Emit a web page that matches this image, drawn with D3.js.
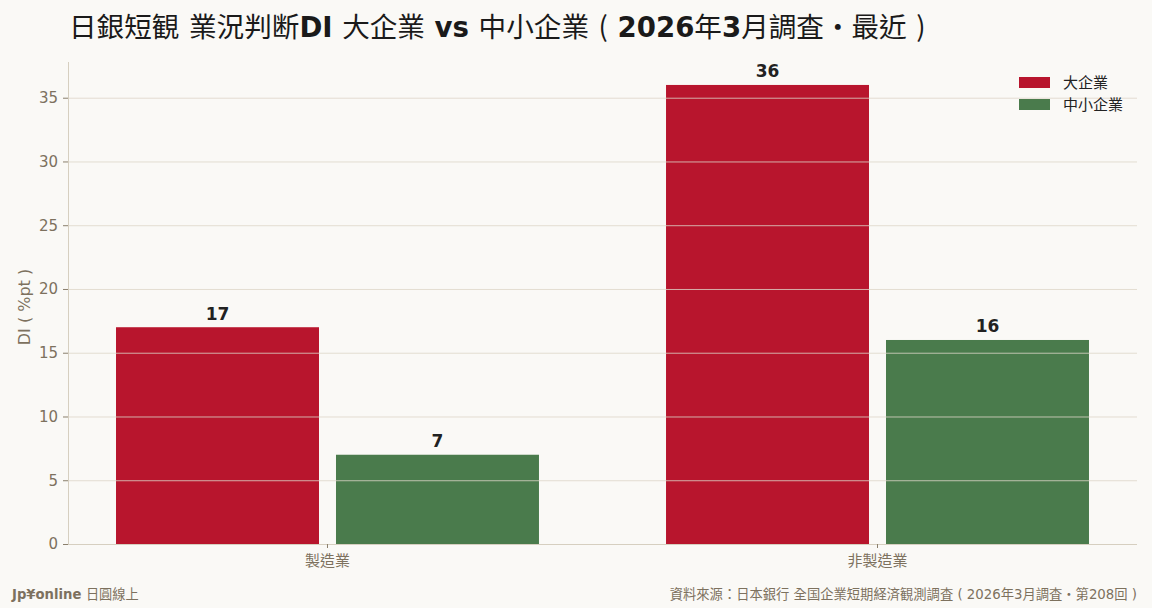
<!DOCTYPE html>
<html><head><meta charset="utf-8">
<script src="https://cdn.jsdelivr.net/npm/d3@7"></script>
<style>
html,body{margin:0;padding:0;background:#faf9f6;}
svg{display:block;}
text{font-family:"DejaVu Sans","Noto Sans CJK TC",sans-serif;}
</style></head>
<body>
<svg id="chart" width="1152" height="608"></svg>
<script>
const categories = ["製造業", "非製造業"];
const seriesNames = ["大企業", "中小企業"];
const largeValues = [17, 36];
const smallValues = [7, 16];
const yTicks = [0, 5, 10, 15, 20, 25, 30, 35];
const colors = ["#b8152d", "#4a7b4c"];

const W = 1152, H = 608;
const m = {left: 68, right: 1137, top: 62, bottom: 544};
const CJK = "Noto Sans CJK TC, sans-serif";
const MIX = "DejaVu Sans, Noto Sans CJK TC, sans-serif";
const svg = d3.select("#chart");
svg.append("rect").attr("width", W).attr("height", H).attr("fill", "#faf9f6");

const x = d3.scaleBand().domain(categories).range([m.left, m.right]).paddingInner(0.231).paddingOuter(0.0873);
const xs = d3.scaleBand().domain(seriesNames).range([0, x.bandwidth()]).paddingInner(0.0773).paddingOuter(0);
const y = d3.scaleLinear().domain([0, 37.8]).range([m.bottom, m.top]);

const data = categories.map((c, i) => ({cat: c, vals: [largeValues[i], smallValues[i]]}));

// bars
const g = svg.append("g");
data.forEach(d => {
  d.vals.forEach((v, j) => {
    g.append("rect")
      .attr("x", x(d.cat) + xs(seriesNames[j]))
      .attr("y", y(v))
      .attr("width", xs.bandwidth())
      .attr("height", y(0) - y(v))
      .attr("fill", colors[j]);
    g.append("text")
      .attr("x", x(d.cat) + xs(seriesNames[j]) + xs.bandwidth() / 2)
      .attr("y", y(v) - 7.5)
      .attr("text-anchor", "middle")
      .attr("font-size", 17).attr("font-weight", "bold").attr("fill", "#222")
      .text(v);
  });
});

// gridlines on top
svg.append("g").selectAll("line").data(yTicks.filter(t => t > 0)).join("line")
  .attr("x1", m.left).attr("x2", m.right)
  .attr("y1", d => y(d) + 0.5).attr("y2", d => y(d) + 0.5)
  .attr("stroke", "#ddd6c8").attr("stroke-opacity", 0.8).attr("stroke-width", 1);

// y axis
const yAxis = svg.append("g").attr("transform", `translate(${m.left},0)`)
  .call(d3.axisLeft(y).tickValues(yTicks).tickSize(5).tickPadding(5));
yAxis.select(".domain").attr("stroke", "#d6cfc0").attr("d", `M0.5,${m.top}V${m.bottom}`);
yAxis.selectAll(".tick line").attr("stroke", "#8a7f6c");
yAxis.selectAll(".tick text").attr("font-size", 15).attr("fill", "#7d715e")
  .attr("font-family", "DejaVu Sans, sans-serif");

// x axis
const xAxis = svg.append("g").attr("transform", `translate(0,${m.bottom})`)
  .call(d3.axisBottom(x).tickSize(4).tickPadding(7));
xAxis.select(".domain").attr("stroke", "#d6cfc0").attr("d", `M${m.left},0.5H${m.right}`);
xAxis.selectAll(".tick line").attr("stroke", "#8a7f6c");
xAxis.selectAll(".tick text").attr("font-size", 15).attr("fill", "#7d715e")
  .attr("font-family", CJK);

// y label
svg.append("text")
  .attr("transform", `translate(30,${(m.top + m.bottom) / 2 + 4}) rotate(-90)`)
  .attr("text-anchor", "middle").attr("font-size", 16).attr("fill", "#7d715e")
  .attr("font-family", MIX)
  .text("DI ( %pt )");

// title: bold latin parts, regular CJK fallback
const titleParts = [
  ["日銀短観", "c"], [" ", "b"], ["業況判断", "c"], ["DI ", "b"], ["大企業", "c"], [" vs ", "b"],
  ["中小企業", "c"], [" ", "b"], ["(", "c"], [" 2026", "b"], ["年", "c"], ["3", "b"],
  ["月調査・最近", "c"], [" ", "b"], [")", "c"]
];
const title = svg.append("text").attr("x", 69).attr("y", 37).attr("font-size", 27.6).attr("fill", "#1a1a1a")
  .attr("xml:space", "preserve").style("white-space", "pre");
titleParts.forEach(([t, s]) => {
  title.append("tspan").text(t)
    .attr("font-weight", s === "b" ? "bold" : "normal")
    .attr("font-family", s === "b" ? "DejaVu Sans, sans-serif" : CJK);
});

// legend
const leg = svg.append("g");
seriesNames.forEach((s, i) => {
  leg.append("rect").attr("x", 1019).attr("y", 77 + i * 22).attr("width", 31).attr("height", 11).attr("fill", colors[i]);
  leg.append("text").attr("x", 1063).attr("y", 83 + i * 22).attr("dy", "0.35em")
    .attr("font-size", 15).attr("fill", "#222")
    .attr("font-family", CJK).text(s);
});

// footer
const fl = svg.append("text").attr("x", 12).attr("y", 599).attr("font-size", 13.2).attr("fill", "#7d715e")
  .style("white-space", "pre");
fl.append("tspan").attr("font-weight", "bold").attr("font-family", "DejaVu Sans, sans-serif").text("Jp¥online ");
fl.append("tspan").attr("font-family", CJK).text("日圓線上");
svg.append("text").attr("x", 1137).attr("y", 599).attr("text-anchor", "end")
  .attr("font-size", 13.3).attr("fill", "#7d715e")
  .attr("font-family", MIX).style("white-space", "pre")
  .text("資料來源：日本銀行 全国企業短期経済観測調査 ( 2026年3月調査・第208回 )");
</script>
</body></html>
